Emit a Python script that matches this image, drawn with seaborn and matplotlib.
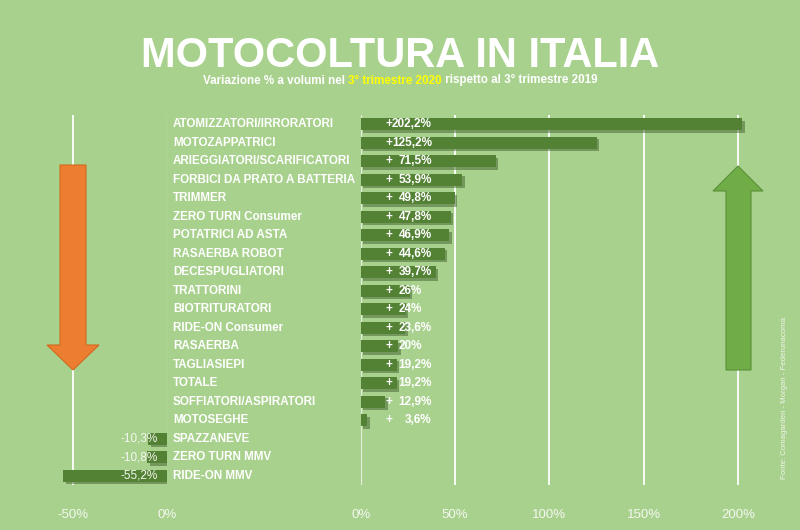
import numpy as np
import pandas as pd
import matplotlib
matplotlib.use("Agg")
import matplotlib.pyplot as plt
import seaborn as sns
from matplotlib.patches import Polygon
from matplotlib.transforms import ScaledTranslation, blended_transform_factory
from matplotlib import font_manager

# ---------------- data ----------------
categories = [
    "ATOMIZZATORI/IRRORATORI", "MOTOZAPPATRICI", "ARIEGGIATORI/SCARIFICATORI",
    "FORBICI DA PRATO A BATTERIA", "TRIMMER", "ZERO TURN Consumer",
    "POTATRICI AD ASTA", "RASAERBA ROBOT", "DECESPUGLIATORI", "TRATTORINI",
    "BIOTRITURATORI", "RIDE-ON Consumer", "RASAERBA", "TAGLIASIEPI", "TOTALE",
    "SOFFIATORI/ASPIRATORI", "MOTOSEGHE", "SPAZZANEVE", "ZERO TURN MMV", "RIDE-ON MMV",
]
values = [202.2, 125.2, 71.5, 53.9, 49.8, 47.8, 46.9, 44.6, 39.7, 26,
          24, 23.6, 20, 19.2, 19.2, 12.9, 3.6, -10.3, -10.8, -55.2]
left_ticks = [-50, 0]
right_ticks = [0, 50, 100, 150, 200]

title = "MOTOCOLTURA IN ITALIA"
subtitle_parts = ["Variazione % a volumi nel ", "3° trimestre 2020", " rispetto al 3° trimestre 2019"]
source = "Fonte: Comagarden - Morgan - Federunacoma"

# ---------------- style ----------------
BG = "#A9D18E"
BAR = "#548235"
SHADOW = "#3f5f2c"
ORANGE = "#ED7D31"
GREEN_ARROW = "#70AD47"

sns.set_theme(style="white")
avail = {f.name for f in font_manager.fontManager.ttflist}
MAIN = "Liberation Sans" if "Liberation Sans" in avail else "DejaVu Sans"
NARROW = "Liberation Sans Narrow" if "Liberation Sans Narrow" in avail else MAIN
plt.rcParams["font.family"] = [MAIN, "DejaVu Sans"]

W, H = 800, 530
fig = plt.figure(figsize=(W / 100, H / 100), dpi=100)
fig.patch.set_facecolor(BG)

def fx(x):
    return x / W

def fy(y):
    return 1 - y / H

ax_bottom = fy(485)
ax_height = 370 / H
scale = 1.886  # px per %
ax1 = fig.add_axes([fx(167.5 - 60 * scale), ax_bottom, 60 * scale / W, ax_height])
ax2 = fig.add_axes([fx(360.7), ax_bottom, 210 * scale / W, ax_height])

df = pd.DataFrame({"cat": categories, "val": values})
pos = df[df["val"] > 0]
neg = df[df["val"] < 0]

for ax, sub, lim in [(ax1, neg, (-60, 0)), (ax2, pos, (0, 210))]:
    ax.set_facecolor("none")
    # shadow
    sns.barplot(data=sub, x="val", y="cat", order=categories, orient="h",
                color=SHADOW, saturation=1, width=0.65, errorbar=None, ax=ax)
    off = ScaledTranslation(0.025, -0.025, fig.dpi_scale_trans)
    for p in ax.patches:
        p.set_transform(ax.transData + off)
        p.set_alpha(0.5)
        p.set_zorder(1)
        p.set_linewidth(0)
    n_sh = len(ax.patches)
    sns.barplot(data=sub, x="val", y="cat", order=categories, orient="h",
                color=BAR, saturation=1, width=0.65, errorbar=None, ax=ax)
    for p in ax.patches[n_sh:]:
        p.set_zorder(2)
        p.set_linewidth(0)
    ax.set_xlim(*lim)
    ax.set_ylim(len(categories) - 0.5, -0.5)
    ax.set_xlabel("")
    ax.set_ylabel("")
    ax.set_yticks([])
    for s in ax.spines.values():
        s.set_visible(False)
    ax.tick_params(axis="x", length=0, pad=17, labelsize=9.5, labelcolor="#f4f7f0")

# grid lines
ax1.axvline(-50, color="white", lw=1.3, zorder=0.5)
ax1.axvline(0, color="#e4eedc", lw=0.9, zorder=0.5)
ax2.axvline(0, color="#e4eedc", lw=0.9, zorder=0.5)
for t in right_ticks[1:]:
    ax2.axvline(t, color="white", lw=1.3, zorder=0.5)

ax1.set_xticks(left_ticks)
ax1.set_xticklabels([f"{t}%" for t in left_ticks], family=NARROW)
ax2.set_xticks(right_ticks)
ax2.set_xticklabels([f"{t}%" for t in right_ticks], family=NARROW)

def fmt(v):
    a = abs(v)
    s = f"{a:.1f}".replace(".", ",") if a != int(a) else f"{int(a)}"
    return s + "%"

# category labels
tr = blended_transform_factory(fig.transFigure, ax2.transData)
for i, c in enumerate(categories):
    ax2.text(fx(173), i, c, transform=tr, ha="left", va="center", color="white",
             fontsize=8.4, fontweight="bold", clip_on=False, zorder=5)

# value labels
for i, v in enumerate(values):
    if v > 0:
        ndig = len(str(int(abs(v))))
        ax2.text(12.9, i, "+", ha="left", va="center", color="white",
                 fontsize=8.5, fontweight="bold", zorder=5)
        ax2.text(16.6 + 3.48 * (3 - ndig), i, fmt(v), ha="left", va="center",
                 color="white", fontsize=8.5, fontweight="bold", zorder=5)
    else:
        ax1.text(-5, i, "-" + fmt(v), ha="right", va="center", color="#f4f7f0",
                 fontsize=8.5, zorder=5)

# arrows
orange_pts = [(60, 165), (86, 165), (86, 345), (99, 345), (73, 370), (47, 345), (60, 345)]
green_pts = [(726, 370), (751, 370), (751, 191), (763, 191), (738, 166), (713, 191), (726, 191)]
fig.patches.append(Polygon([(fx(x), fy(y)) for x, y in orange_pts], closed=True,
                           transform=fig.transFigure, facecolor=ORANGE,
                           edgecolor="#d2691e", lw=0.8, zorder=3))
fig.patches.append(Polygon([(fx(x), fy(y)) for x, y in green_pts], closed=True,
                           transform=fig.transFigure, facecolor=GREEN_ARROW,
                           edgecolor="#5a8f38", lw=0.8, zorder=3))

# title
fig.text(0.5, fy(67), title, ha="center", va="baseline", color="white",
         fontsize=30, fontweight="bold")

# subtitle with highlighted part
fig.canvas.draw()
renderer = fig.canvas.get_renderer()
sub_kw = dict(fontsize=8.4, fontweight="bold", family=[NARROW, "DejaVu Sans"])

def text_width(s):
    t = fig.text(0, 0, "X" + s + "X", **sub_kw)
    t2 = fig.text(0, 0, "XX", **sub_kw)
    w = t.get_window_extent(renderer).width - t2.get_window_extent(renderer).width
    t.remove()
    t2.remove()
    return w

widths = [text_width(p) for p in subtitle_parts]
total = sum(widths)
x0 = 400 - total / 2
colors = ["white", "#FFFF00", "white"]
for p, w, c in zip(subtitle_parts, widths, colors):
    fig.text(fx(x0), fy(83.5), p, ha="left", va="baseline", color=c, **sub_kw)
    x0 += w

# source
fig.text(fx(785), fy(398), source, rotation=90, ha="center", va="center",
         color="#eef4e8", fontsize=5.6, family=[NARROW, "DejaVu Sans"])

fig.savefig("out.png", dpi=100, facecolor=BG)
